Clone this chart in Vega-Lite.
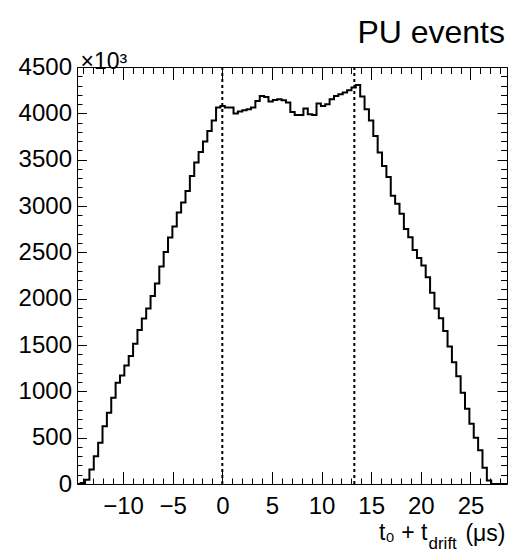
{
  "$schema": "https://vega.github.io/schema/vega-lite/v6.json",
  "width": 430,
  "height": 417,
  "autosize": "none",
  "padding": {"left": 77, "top": 67, "right": 7, "bottom": 67},
  "background": "white",
  "config": {
    "view": {"stroke": null},
    "font": "Liberation Sans",
    "axis": {
      "grid": false,
      "domainColor": "black",
      "domainWidth": 1,
      "tickColor": "black",
      "tickWidth": 1,
      "labelColor": "black",
      "labelFont": "Liberation Sans",
      "labelFontSize": 24,
      "titleFont": "Liberation Sans",
      "titleFontWeight": "normal",
      "titleColor": "black"
    }
  },
  "title": {
    "text": "PU events",
    "anchor": "end",
    "frame": "group",
    "orient": "top",
    "offset": 22,
    "dx": -2,
    "dy": 47,
    "fontSize": 32,
    "fontWeight": "normal",
    "font": "Liberation Sans",
    "color": "black",
    "baseline": "alphabetic"
  },
  "datasets": {
    "hist": [
      {"x": -14.71, "y": 0}, {"x": -14.27, "y": 10}, {"x": -13.83, "y": 45}, {"x": -13.39, "y": 157},
      {"x": -12.95, "y": 300}, {"x": -12.51, "y": 445}, {"x": -12.07, "y": 624}, {"x": -11.63, "y": 769},
      {"x": -11.19, "y": 931}, {"x": -10.75, "y": 1093}, {"x": -10.31, "y": 1172}, {"x": -9.87, "y": 1280},
      {"x": -9.43, "y": 1380}, {"x": -8.99, "y": 1514}, {"x": -8.55, "y": 1661}, {"x": -8.11, "y": 1787},
      {"x": -7.67, "y": 1895}, {"x": -7.23, "y": 2030}, {"x": -6.79, "y": 2165}, {"x": -6.35, "y": 2346},
      {"x": -5.91, "y": 2503}, {"x": -5.47, "y": 2659}, {"x": -5.03, "y": 2778}, {"x": -4.59, "y": 2929},
      {"x": -4.15, "y": 3037}, {"x": -3.71, "y": 3162}, {"x": -3.27, "y": 3324}, {"x": -2.83, "y": 3469},
      {"x": -2.39, "y": 3583}, {"x": -1.95, "y": 3696}, {"x": -1.51, "y": 3810}, {"x": -1.07, "y": 3924},
      {"x": -0.63, "y": 4063}, {"x": -0.19, "y": 4080}, {"x": 0.25, "y": 4063}, {"x": 0.69, "y": 4063},
      {"x": 1.13, "y": 3998}, {"x": 1.57, "y": 4020}, {"x": 2.01, "y": 4034}, {"x": 2.45, "y": 4045},
      {"x": 2.89, "y": 4063}, {"x": 3.33, "y": 4134}, {"x": 3.77, "y": 4188}, {"x": 4.21, "y": 4177},
      {"x": 4.65, "y": 4128}, {"x": 5.09, "y": 4145}, {"x": 5.53, "y": 4153}, {"x": 5.97, "y": 4142},
      {"x": 6.41, "y": 4117}, {"x": 6.85, "y": 4015}, {"x": 7.29, "y": 3983}, {"x": 7.73, "y": 3983},
      {"x": 8.17, "y": 4052}, {"x": 8.61, "y": 3991}, {"x": 9.05, "y": 3983}, {"x": 9.49, "y": 4106},
      {"x": 9.93, "y": 4080}, {"x": 10.37, "y": 4099}, {"x": 10.81, "y": 4153}, {"x": 11.25, "y": 4188},
      {"x": 11.69, "y": 4207}, {"x": 12.13, "y": 4225}, {"x": 12.57, "y": 4250}, {"x": 13.01, "y": 4279},
      {"x": 13.45, "y": 4305}, {"x": 13.89, "y": 4182}, {"x": 14.33, "y": 4045}, {"x": 14.77, "y": 3923},
      {"x": 15.21, "y": 3756}, {"x": 15.65, "y": 3577}, {"x": 16.09, "y": 3432}, {"x": 16.53, "y": 3313},
      {"x": 16.97, "y": 3110}, {"x": 17.41, "y": 3024}, {"x": 17.85, "y": 2916}, {"x": 18.29, "y": 2753},
      {"x": 18.73, "y": 2664}, {"x": 19.17, "y": 2524}, {"x": 19.61, "y": 2438}, {"x": 20.05, "y": 2357},
      {"x": 20.49, "y": 2230}, {"x": 20.93, "y": 2065}, {"x": 21.37, "y": 1893}, {"x": 21.81, "y": 1790},
      {"x": 22.25, "y": 1650}, {"x": 22.69, "y": 1483}, {"x": 23.13, "y": 1315}, {"x": 23.57, "y": 1164},
      {"x": 24.01, "y": 984}, {"x": 24.45, "y": 812}, {"x": 24.89, "y": 650}, {"x": 25.33, "y": 499},
      {"x": 25.77, "y": 365}, {"x": 26.21, "y": 175}, {"x": 26.65, "y": 38}, {"x": 27.09, "y": 0},
      {"x": 27.53, "y": 0}, {"x": 27.97, "y": 0}, {"x": 28.41, "y": 0}, {"x": 28.85, "y": 0}
    ],
    "lines": [{"x": 0}, {"x": 13.3}]
  },
  "resolve": {"axis": {"x": "independent", "y": "independent"}},
  "layer": [
    {
      "data": {"name": "hist"},
      "mark": {"type": "line", "interpolate": "step-after", "color": "black", "strokeWidth": 2, "clip": true},
      "encoding": {
        "x": {
          "field": "x", "type": "quantitative",
          "scale": {"domain": [-14.64, 28.68], "nice": false, "zero": false},
          "axis": {
            "orient": "bottom",
            "values": [-14,-13,-12,-11,-10,-9,-8,-7,-6,-5,-4,-3,-2,-1,0,1,2,3,4,5,6,7,8,9,10,11,12,13,14,15,16,17,18,19,20,21,22,23,24,25,26,27,28],
            "tickSize": {"condition": {"test": "datum.value % 5 === 0", "value": -12.5}, "value": -6},
            "labelExpr": "datum.value % 5 === 0 ? (datum.value < 0 ? '\u2212' + (-datum.value) : '' + datum.value) : ''",
            "labelPadding": 23,
            "labelFlush": false,
            "labelOverlap": false,
            "title": "t\u2080 + t",
            "titleFontSize": 23,
            "titleAlign": "right",
            "titleAnchor": null,
            "titleBaseline": "alphabetic",
            "titleX": 350,
            "titleY": 55
          }
        },
        "y": {
          "field": "y", "type": "quantitative",
          "scale": {"domain": [0, 4500], "nice": false},
          "axis": {
            "orient": "left",
            "values": [0,100,200,300,400,500,600,700,800,900,1000,1100,1200,1300,1400,1500,1600,1700,1800,1900,2000,2100,2200,2300,2400,2500,2600,2700,2800,2900,3000,3100,3200,3300,3400,3500,3600,3700,3800,3900,4000,4100,4200,4300,4400,4500],
            "tickSize": {"condition": {"test": "datum.value % 500 === 0", "value": -9.5}, "value": -5},
            "labelExpr": "datum.value % 500 === 0 ? '' + datum.value : ''",
            "labelPadding": 15,
            "labelFlush": false,
            "labelOverlap": false,
            "title": "\u00d710\u00b3",
            "titleFontSize": 23,
            "titleAngle": 0,
            "titleAlign": "left",
            "titleAnchor": null,
            "titleBaseline": "alphabetic",
            "titleX": 3,
            "titleY": 1
          }
        }
      }
    },
    {
      "data": {"name": "lines"},
      "mark": {"type": "rule", "color": "black", "strokeWidth": 2, "strokeDash": [3, 3]},
      "encoding": {
        "x": {
          "field": "x", "type": "quantitative",
          "axis": {
            "orient": "top",
            "values": [-14,-13,-12,-11,-10,-9,-8,-7,-6,-5,-4,-3,-2,-1,0,1,2,3,4,5,6,7,8,9,10,11,12,13,14,15,16,17,18,19,20,21,22,23,24,25,26,27,28],
            "tickSize": {"condition": {"test": "datum.value % 5 === 0", "value": -12.5}, "value": -6.5},
            "labels": false,
            "title": "drift",
            "titleFontSize": 17,
            "titleAlign": "left",
            "titleAnchor": null,
            "titleBaseline": "alphabetic",
            "titleX": 351,
            "titleY": 481
          }
        },
        "y": {
          "datum": 0, "type": "quantitative",
          "axis": {
            "orient": "right",
            "values": [0,100,200,300,400,500,600,700,800,900,1000,1100,1200,1300,1400,1500,1600,1700,1800,1900,2000,2100,2200,2300,2400,2500,2600,2700,2800,2900,3000,3100,3200,3300,3400,3500,3600,3700,3800,3900,4000,4100,4200,4300,4400,4500],
            "tickSize": {"condition": {"test": "datum.value % 500 === 0", "value": -10}, "value": -6.5},
            "labels": false,
            "title": "(\u03bcs)",
            "titleFontSize": 23,
            "titleAngle": 0,
            "titleAlign": "right",
            "titleAnchor": null,
            "titleBaseline": "alphabetic",
            "titleX": -2,
            "titleY": 473
          }
        },
        "y2": {"datum": 4500}
      }
    }
  ]
}
